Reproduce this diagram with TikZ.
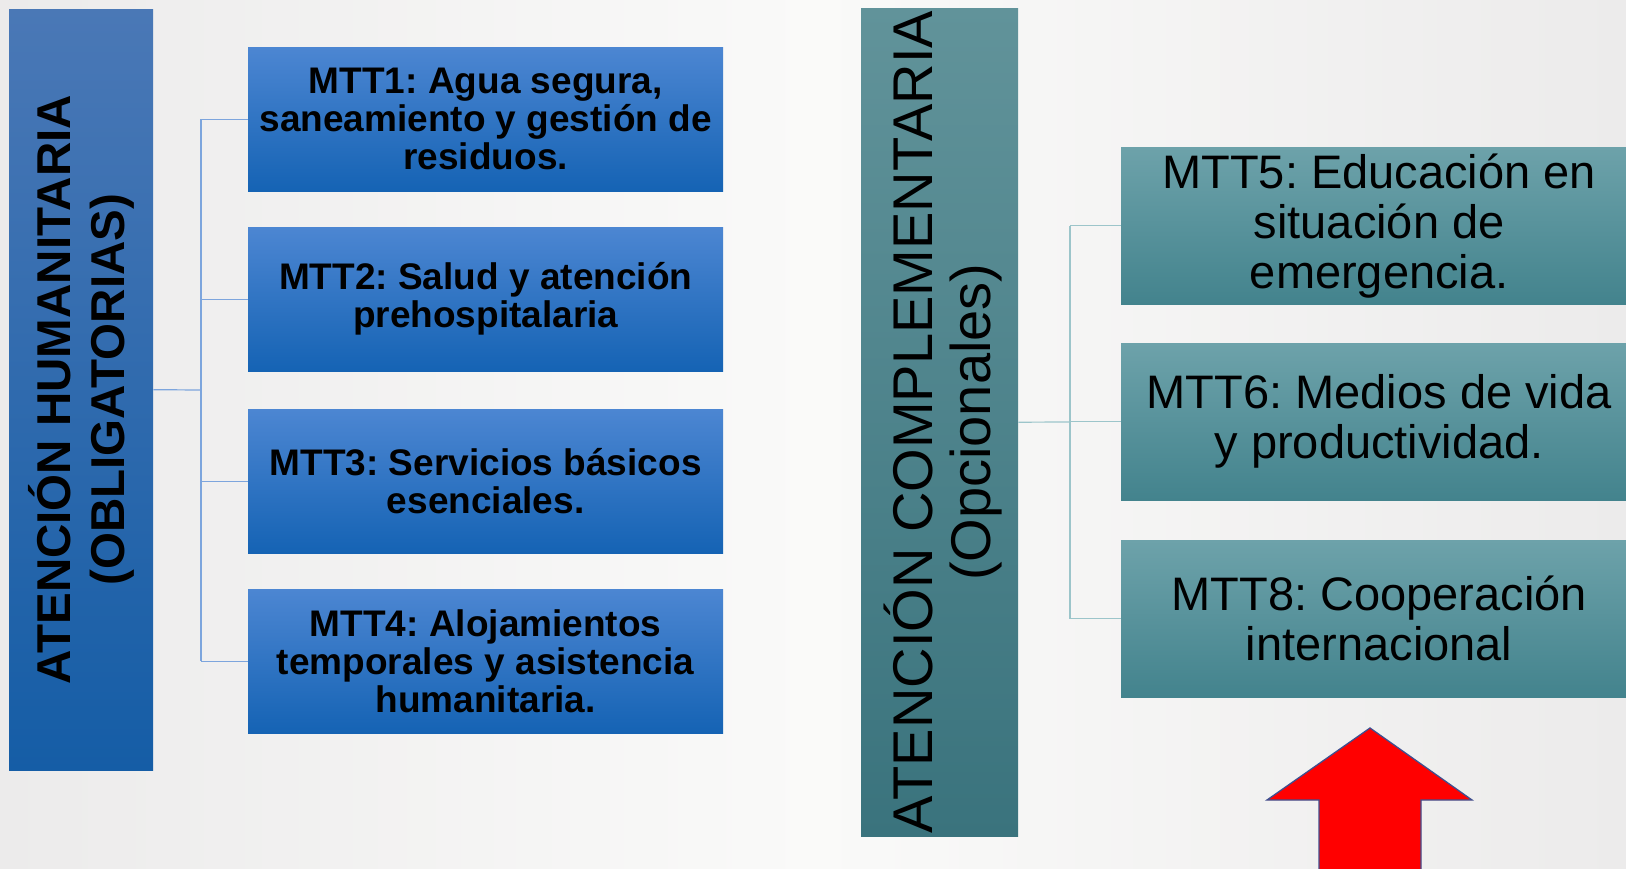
\documentclass[tikz,border=0pt]{standalone}
\usepackage{fontspec}
\setmainfont{Liberation Sans}
\frenchspacing
\definecolor{bgEdge}{HTML}{ECEBEB}
\definecolor{bgMid}{HTML}{FAFAF9}
\definecolor{lbarTop}{HTML}{4A78B6}
\definecolor{lbarBot}{HTML}{155DA6}
\definecolor{bboxTop}{HTML}{4C86D2}
\definecolor{bboxMid}{HTML}{1E70C9}
\definecolor{bboxBot}{HTML}{1563B4}
\definecolor{rbarTop}{HTML}{61939A}
\definecolor{rbarBot}{HTML}{3A737D}
\definecolor{tboxTop}{HTML}{6DA2AA}
\definecolor{tboxMid}{HTML}{4E929C}
\definecolor{tboxBot}{HTML}{43838D}
\definecolor{bluelink}{HTML}{7DA5DD}
\definecolor{teallink}{HTML}{9CC5CA}
\definecolor{arrowedge}{HTML}{3F4F8F}
\begin{document}
\begin{tikzpicture}[x=1pt,y=-1pt,
  lbarstyle/.style={anchor=north west, inner sep=0pt, minimum width=144pt, minimum height=761pt, top color=lbarTop, bottom color=lbarBot},
  rbarstyle/.style={anchor=north west, inner sep=0pt, minimum width=157pt, minimum height=828pt, top color=rbarTop, bottom color=rbarBot},
  bluebox/.style={anchor=north west, inner sep=0pt, minimum width=475pt, minimum height=144pt, top color=bboxTop, middle color=bboxMid, bottom color=bboxBot, align=center, font=\bfseries\fontsize{37}{38}\selectfont},
  tealbox/.style={anchor=north west, inner sep=0pt, minimum width=516pt, minimum height=157pt, top color=tboxTop, middle color=tboxMid, bottom color=tboxBot, align=center, font=\fontsize{47}{50}\selectfont},
  bluelinkstyle/.style={draw=bluelink, line width=1.2pt},
  teallinkstyle/.style={draw=teallink, line width=1.2pt}
]
\clip (0,0) rectangle (1626,869);
\fill[bgEdge] (0,0) rectangle (1626,869);
\shade[left color=bgEdge, right color=bgMid] (0,0) rectangle (813,869);
\shade[left color=bgMid, right color=bgEdge] (813,0) rectangle (1626,869);

% left group
\node[lbarstyle] (lbar) at (9,9) {};
\node[rotate=90, align=center, font=\bfseries\fontsize{47.5}{54}\selectfont] (ltext) at (lbar.center) {ATENCIÓN HUMANITARIA\\(OBLIGATORIAS)};

\node[bluebox] (m1) at (248,47) {MTT1: Agua segura,\\saneamiento y gestión de\\residuos.};
\node[bluebox] (m2) at (248,227) {MTT2: Salud y atención\\prehospitalaria};
\node[bluebox] (m3) at (248,409) {MTT3: Servicios básicos\\esenciales.};
\node[bluebox] (m4) at (248,589) {MTT4: Alojamientos\\temporales y asistencia\\humanitaria.};

\coordinate (jl) at (201,390);
\draw[bluelinkstyle] (lbar.east) -- (jl);
\draw[bluelinkstyle] (jl |- m1.west) -- (jl |- m4.west);
\draw[bluelinkstyle] (jl |- m1.west) -- (m1.west);
\draw[bluelinkstyle] (jl |- m2.west) -- (m2.west);
\draw[bluelinkstyle] (jl |- m3.west) -- (m3.west);
\draw[bluelinkstyle] (jl |- m4.west) -- (m4.west);

% right group
\node[rbarstyle] (rbar) at (861,8) {};
\node[rotate=90, align=center, font=\fontsize{56}{58}\selectfont] (rtext) at ([xshift=3pt]rbar.center) {ATENCIÓN COMPLEMENTARIA\\(Opcionales)};

\node[tealbox] (m5) at (1121,147) {\raisebox{-3pt}{\parbox{516pt}{\centering MTT5: Educación en\\situación de\\emergencia.}}};
\node[tealbox] (m6) at (1121,343) {\raisebox{-3pt}{\parbox{516pt}{\centering MTT6: Medios de vida\\y productividad.}}};
\node[tealbox] (m8) at (1121,540) {\raisebox{-3pt}{\parbox{516pt}{\centering MTT8: Cooperación\\internacional}}};

\coordinate (jr) at (1070,422);
\draw[teallinkstyle] (rbar.east) -- (jr);
\draw[teallinkstyle] (jr |- m5.west) -- (jr |- m8.west);
\draw[teallinkstyle] (jr |- m5.west) -- (m5.west);
\draw[teallinkstyle] (jr |- m6.west) -- (m6.west);
\draw[teallinkstyle] (jr |- m8.west) -- (m8.west);

% red arrow
\draw[fill=red, draw=arrowedge, line width=1.3pt, line join=miter]
  (1319,875) -- (1319,800) -- (1267,800) -- (1370,728) -- (1472,800) -- (1421,800) -- (1421,875);
\end{tikzpicture}
\end{document}
